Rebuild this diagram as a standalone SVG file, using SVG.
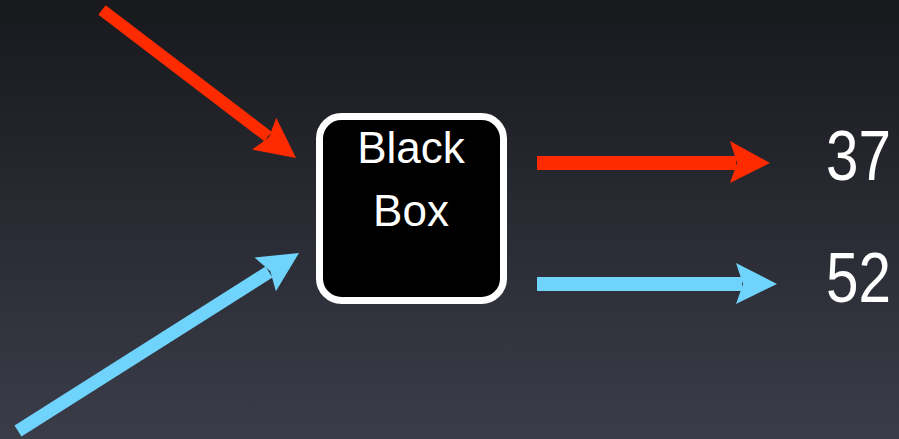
<svg xmlns="http://www.w3.org/2000/svg" width="899" height="439" viewBox="0 0 899 439">
<defs>
<linearGradient id="bg" x1="0" y1="0" x2="0" y2="1">
<stop offset="0" stop-color="#18191d"/>
<stop offset="1" stop-color="#3a3c48"/>
</linearGradient>
<style>
.red{stroke:#fe2a00;fill:none}
.blue{stroke:#6fd3fc;fill:none}
.redh{fill:#fe2a00}
.blueh{fill:#6fd3fc}
.lbl{font-family:"Liberation Sans",Arial,sans-serif;fill:#ffffff}
</style>
</defs>
<rect width="899" height="439" fill="url(#bg)"/>
<g id="connectors">
<line class="red" x1="102" y1="10" x2="268" y2="136.5" stroke-width="12"/>
<polygon class="redh" points="296,158 276.3,117.8 269,137.3 252.1,149.6"/>
<line class="blue" x1="18" y1="431" x2="269" y2="272" stroke-width="13"/>
<polygon class="blueh" points="299,253 254.5,257.5 270.3,271.2 275.9,291.3"/>
<line class="red" x1="537" y1="163" x2="736" y2="163" stroke-width="14"/>
<polygon class="redh" points="770,163 730,141 737,163 730,183"/>
<line class="blue" x1="537" y1="284" x2="742" y2="284" stroke-width="14"/>
<polygon class="blueh" points="777,284 736,263 743,284 736,304"/>
</g>
<g id="blackbox">
<rect x="319.5" y="116.5" width="184" height="184" rx="22" ry="22" fill="#000000" stroke="#ffffff" stroke-width="7"/>
<text class="lbl" x="411" y="163" font-size="44" text-anchor="middle">Black</text>
<text class="lbl" x="411" y="226" font-size="44" text-anchor="middle">Box</text>
</g>
<g id="out37">
<text class="lbl" x="826" y="180" font-size="70" textLength="65" lengthAdjust="spacingAndGlyphs">37</text>
</g>
<g id="out52">
<text class="lbl" x="826" y="302" font-size="70" textLength="65" lengthAdjust="spacingAndGlyphs">52</text>
</g>
</svg>
